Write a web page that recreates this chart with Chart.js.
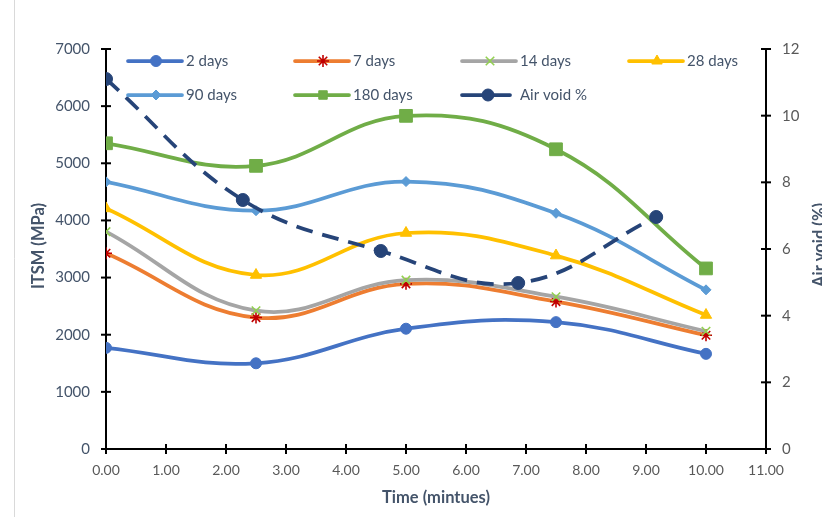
<!DOCTYPE html>
<html>
<head>
<meta charset="utf-8">
<script src="https://cdn.jsdelivr.net/npm/chart.js@4.4.0/dist/chart.umd.min.js"></script>
<style>
  html, body { margin: 0; padding: 0; background: #fff; }
</style>
</head>
<body>
<canvas id="myChart" width="822" height="517"></canvas>
<script>
// ITSM against time for each curing age, air void on the second axis

const times = [0, 2.5, 5, 7.5, 10];              // minutes
const itsm2 = [1770, 1500, 2105, 2220, 1665];     // MPa
const itsm7 = [3425, 2300, 2890, 2580, 1990];
const itsm14 = [3805, 2420, 2955, 2665, 2060];
const itsm28 = [4210, 3045, 3780, 3385, 2345];
const itsm90 = [4675, 4170, 4680, 4125, 2785];
const itsm180 = [5350, 4955, 5830, 5245, 3160];

const voidTimes = [0, 2.28, 4.58, 6.87, 9.17];   // air void points sit at their own x
const airVoid = [11.1, 7.47, 5.94, 4.98, 6.96];   // %

const xTitle = 'Time (mintues)';
const yTitle = 'ITSM (MPa)';
const y2Title = 'Air void (%)';

const FONT = 'Lato, "Liberation Sans", sans-serif';

function pts(xs, ys) {
    return xs.map((x, i) => ({ x: x, y: ys[i] }));
}

function series(label, xs, ys, color, style, markColor, radius, order) {
    return {
        label: label,
        data: pts(xs, ys),
        borderColor: color,
        borderWidth: 3.75,
        tension: 0.4,
        pointStyle: style,
        pointRadius: radius,
        pointBackgroundColor: markColor,
        pointBorderColor: markColor,
        pointBorderWidth: (style === 'star' || style === 'crossRot') ? 1.6 : 1,
        order: order,
        yAxisID: 'y'
    };
}

const datasets = [
    series('2 days', times, itsm2, '#4472C4', 'circle', '#4472C4', 5.5, 6),
    series('7 days', times, itsm7, '#ED7D31', 'star', '#C00000', 6, 5),
    series('14 days', times, itsm14, '#A5A5A5', 'crossRot', '#92D050', 6, 4),
    series('28 days', times, itsm28, '#FFC000', 'triangle', '#FFC000', 6.5, 3),
    series('90 days', times, itsm90, '#5B9BD5', 'rectRot', '#5B9BD5', 5, 2),
    series('180 days', times, itsm180, '#70AD47', 'rect', '#70AD47', 9, 1),
    Object.assign(series('Air void %', voidTimes, airVoid, '#264478', 'circle', '#264478', 6.5, 0),
        { borderDash: [17, 10], yAxisID: 'y2' })
];

// axis tick marks crossing the axis lines, like the spreadsheet chart
const crossTicks = {
    id: 'crossTicks',
    beforeDraw(chart) {
        const ctx = chart.ctx;
        ctx.save();
        ctx.fillStyle = '#fff';
        ctx.fillRect(0, 0, chart.width, chart.height);
        ctx.strokeStyle = '#D9D9D9';
        ctx.lineWidth = 1;
        ctx.beginPath();
        ctx.moveTo(14.5, 0);
        ctx.lineTo(14.5, chart.height);
        ctx.stroke();
        ctx.restore();
    },
    beforeDatasetsDraw(chart) {
        const ctx = chart.ctx;
        ctx.save();
        ctx.strokeStyle = '#000';
        ctx.lineWidth = 2;
        ['x', 'y', 'y2'].forEach(id => {
            const sc = chart.scales[id];
            sc.ticks.forEach(t => {
                const p = sc.getPixelForValue(t.value);
                ctx.beginPath();
                if (id === 'x') { ctx.moveTo(p, sc.top - 5); ctx.lineTo(p, sc.top + 5); }
                else if (id === 'y') { ctx.moveTo(sc.right - 5, p); ctx.lineTo(sc.right + 5, p); }
                else { ctx.moveTo(sc.left - 5, p); ctx.lineTo(sc.left + 5, p); }
                ctx.stroke();
            });
        });
        ctx.restore();
    }
};

// legend sits inside the plot area in two rows of four columns
const innerLegend = {
    id: 'innerLegend',
    afterDatasetsDraw(chart) {
        const ctx = chart.ctx;
        const cols = [128, 295, 462, 629];
        const rows = [61, 95];
        chart.data.datasets.forEach((ds, i) => {
            const x0 = cols[i % 4];
            const y = rows[Math.floor(i / 4)];
            const dashed = !!ds.borderDash;
            const len = dashed ? 48 : 54;
            ctx.save();
            ctx.strokeStyle = ds.borderColor;
            ctx.lineWidth = ds.borderWidth;
            ctx.lineCap = 'round';
            if (dashed) ctx.setLineDash([20, 8]);
            ctx.beginPath();
            ctx.moveTo(x0, y);
            ctx.lineTo(x0 + len, y);
            ctx.stroke();
            ctx.setLineDash([]);
            ctx.lineCap = 'butt';
            ctx.fillStyle = ds.pointBackgroundColor;
            ctx.strokeStyle = ds.pointBorderColor;
            ctx.lineWidth = ds.pointBorderWidth;
            const mx = x0 + (dashed ? 26 : 28);
            if (Chart.helpers && Chart.helpers.drawPoint) {
                Chart.helpers.drawPoint(ctx, {
                    pointStyle: ds.pointStyle,
                    radius: Math.min(ds.pointRadius, 6),
                    rotation: 0,
                    borderWidth: ds.pointBorderWidth
                }, mx, y);
            } else {
                ctx.beginPath();
                ctx.arc(mx, y, 5, 0, Math.PI * 2);
                ctx.fill();
            }
            ctx.fillStyle = '#44546A';
            ctx.font = '15px ' + FONT;
            ctx.textBaseline = 'middle';
            ctx.textAlign = 'left';
            ctx.fillText(ds.label, x0 + 58, y);
            ctx.restore();
        });
    },
    afterDraw(chart) {
        const ctx = chart.ctx;
        const titleFont = 'bold 16.5px ' + FONT;
        ctx.save();
        ctx.fillStyle = '#44546A';
        ctx.font = titleFont;
        ctx.textAlign = 'center';
        ctx.textBaseline = 'middle';
        ctx.fillText(xTitle, (chart.chartArea.left + chart.chartArea.right) / 2, 498);
        ctx.translate(39, 246);
        ctx.rotate(-Math.PI / 2);
        ctx.fillText(yTitle, 0, 0);
        ctx.restore();
        ctx.save();
        ctx.fillStyle = '#44546A';
        ctx.font = titleFont;
        ctx.textAlign = 'center';
        ctx.textBaseline = 'middle';
        ctx.translate(820, 245);
        ctx.rotate(-Math.PI / 2);
        ctx.fillText(y2Title, 0, 0);
        ctx.restore();
    }
};

const noGrid = { display: true, drawOnChartArea: false, drawTicks: false };
const axisLine = { color: '#000', width: 2 };

new Chart(document.getElementById('myChart'), {
    type: 'line',
    data: { datasets: datasets },
    options: {
        responsive: false,
        animation: false,
        events: [],
        layout: { padding: { top: 49, left: 0, right: 0, bottom: 0 } },
        scales: {
            x: {
                type: 'linear',
                min: 0,
                max: 11,
                grid: noGrid,
                border: axisLine,
                ticks: {
                    stepSize: 1,
                    autoSkip: false,
                    maxRotation: 0,
                    padding: 13,
                    color: '#595959',
                    font: { family: FONT, size: 14 },
                    callback: v => Number(v).toFixed(2)
                },
                afterFit: s => { s.height = 68; }
            },
            y: {
                position: 'left',
                min: 0,
                max: 7000,
                grid: noGrid,
                border: axisLine,
                ticks: {
                    stepSize: 1000,
                    padding: 16,
                    color: '#44546A',
                    font: { family: FONT, size: 15 },
                    callback: v => String(v)
                },
                afterFit: s => { s.width = 106; }
            },
            y2: {
                position: 'right',
                min: 0,
                max: 12,
                grid: noGrid,
                border: axisLine,
                ticks: {
                    stepSize: 2,
                    padding: 16,
                    color: '#595959',
                    font: { family: FONT, size: 15 },
                    callback: v => String(v)
                },
                afterFit: s => { s.width = 56; }
            }
        },
        plugins: {
            legend: { display: false },
            tooltip: { enabled: false }
        }
    },
    plugins: [crossTicks, innerLegend]
});
</script>
</body>
</html>
